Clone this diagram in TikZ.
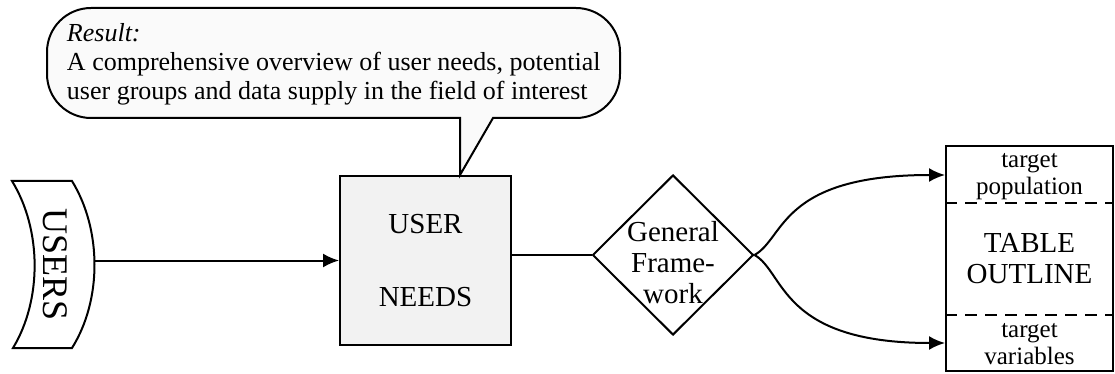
\documentclass[tikz,border=0pt]{standalone}
\usepackage{fontspec}
\setmainfont{Liberation Serif}
\usepackage{tikz}
\usetikzlibrary{shapes.geometric}
\usetikzlibrary{arrows.meta}
\usetikzlibrary{calc}

\begin{document}
\begin{tikzpicture}[x=0.5pt,y=-0.5pt,line width=1pt,
        big/.style={font=\fontsize{14.5}{15.5}\selectfont,align=center},
        small/.style={font=\fontsize{12.5}{13.5}\selectfont,align=center},
        arr/.style={-{Latex[length=8pt,width=7pt]}}]
            \useasboundingbox (0,0) rectangle (1115,374);
            %\draw[help lines] (0,0) grid[step=50] (1115,374);
            \node[draw,fill=black!5,minimum width=85.5pt,minimum height=84.5pt,big] (needs) at (425.5,260.5) {USER\\[21pt]NEEDS};
            % callout
            \coordinate (tailtip) at (needs.north -| 460,0);
            \draw[fill=black!2] (tailtip)--(460,118)[rounded corners=22pt]--(47,118)--(47,8)--(620,8)--(620,118)[sharp corners]--(493,118)--cycle;
            \node[anchor=north west,inner sep=0pt,align=left,font=\fontsize{13}{14.5}\selectfont] (result) at (66,22) {\textit{Result:}\\A comprehensive overview of user needs, potential\\user groups and data supply in the field of interest};
            % users
            \draw[fill=white] (12,181)--(72,181) .. controls (102,230) and (102,300) .. (72,348)--(13,348) .. controls (42,300) and (42,230) .. cycle;
            \node[rotate=-90,font=\fontsize{18}{20}\selectfont] (users) at (55,265) {USERS};
            \coordinate (usersend) at (95,260.5);
            \draw[arr] (usersend)--(needs.west);
            % framework
            \node[draw,diamond,minimum width=80.5pt,minimum height=80pt,inner sep=0pt] (frame) at (673,255) {};
            \node[big] (frametext) at (673,263) {General\\Frame-\\work};
            \draw (needs.east |- frame.west)--(frame.west);
            % table outline
            \node[draw,minimum width=83.5pt,minimum height=112.5pt] (outline) at (1029.5,258.5) {};
            \node[big] (outlinetext) at (1029.5,259) {TABLE\\OUTLINE};
            \node[small] (pop) at (1029.5,177) {target\\population};
            \node[small] (vars) at (1029.5,344) {target\\variables};
            \draw[dash pattern=on 6pt off 4pt] (outline.west |- 0,203)--(outline.east |- 0,203);
            \draw[dash pattern=on 6pt off 4pt] (outline.west |- 0,315)--(outline.east |- 0,315);
            \draw[arr] (frame.east) .. controls (785,238) and (780,175) .. (outline.west |- 0,175);
            \draw[arr] (frame.east) .. controls (785,272) and (780,343) .. (outline.west |- 0,343);
\end{tikzpicture}
\end{document}
